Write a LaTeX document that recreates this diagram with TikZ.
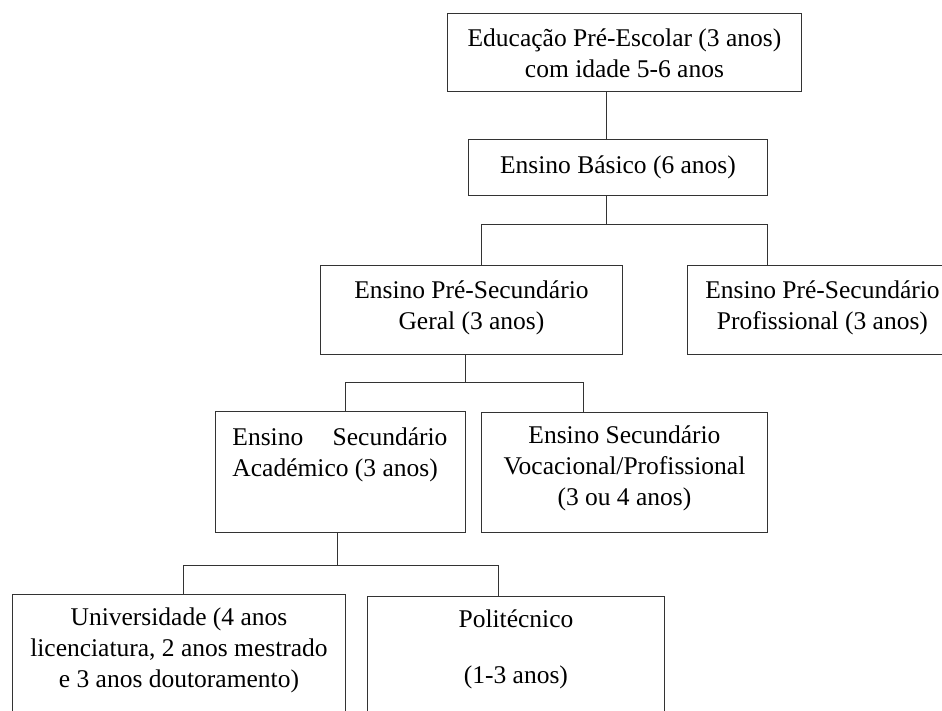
\documentclass[tikz,border=0pt]{standalone}
\usepackage{fontspec}
\setmainfont{Liberation Serif}
\begin{document}
\begin{tikzpicture}[x=1pt, y=-1pt,
    font=\fontsize{25.5}{31}\selectfont,
    box/.style={draw=black!80, line width=0.9pt, inner sep=0pt, anchor=north west},
    link/.style={draw=black!80, line width=0.9pt}]
      \useasboundingbox (0,0) rectangle (942,711);
      \clip (0,0) rectangle (942,711);
      % levels, top to bottom
      \node[box] (pre) at (447,13)
        {\parbox[t][78pt][t]{354pt}{\centering\rule{0pt}{33pt}Educação Pré-Escolar (3 anos)\\com idade 5-6 anos}};
      \node[box] (basico) at (468,139)
        {\parbox[t][56pt][t]{299pt}{\centering\rule{0pt}{34pt}Ensino Básico (6 anos)}};
      \node[box] (geral) at (320,265)
        {\parbox[t][89pt][t]{302pt}{\centering\rule{0pt}{33pt}Ensino Pré-Secundário\\Geral (3 anos)}};
      \node[box] (prof) at (687,265)
        {\parbox[t][89pt][t]{270pt}{\centering\rule{0pt}{33pt}Ensino Pré-Secundário\\Profissional (3 anos)}};
      \node[box] (acad) at (215,411)
        {\parbox[t][121pt][t]{250pt}{\raggedright\rule{0pt}{34pt}\hspace*{17pt}\makebox[215pt][s]{Ensino Secundário}\\\hspace*{17pt}Académico (3 anos)}};
      \node[box] (voc) at (481,412)
        {\parbox[t][120pt][t]{286pt}{\centering\rule{0pt}{31pt}Ensino Secundário\\Vocacional/Profissional\\(3 ou 4 anos)}};
      \node[box] (univ) at (12,594)
        {\parbox[t][130pt][t]{333pt}{\centering\rule{0pt}{31pt}Universidade (4 anos\\licenciatura, 2 anos mestrado\\e 3 anos doutoramento)}};
      \node[box] (poli) at (367,596)
        {\parbox[t][128pt][t]{297pt}{\centering\rule{0pt}{31pt}Politécnico\\[25pt](1-3 anos)}};
      % branch points
      \coordinate (t1) at (606,224);
      \coordinate (b1) at (481,224);
      \coordinate (b2) at (767,224);
      \coordinate (t2) at (465,382);
      \coordinate (b3) at (345,382);
      \coordinate (b4) at (583,382);
      \coordinate (t3) at (337,565);
      \coordinate (b5) at (183,565);
      \coordinate (b6) at (498,565);
      \begin{scope}[link]
        \draw (pre.south -| t1) to (basico.north -| t1);
        \draw (basico.south -| t1) to (t1);
        \draw (geral.north -| b1) -- (b1) -- (b2) -- (prof.north -| b2);
        \draw (geral.south -| t2) to (t2);
        \draw (acad.north -| b3) -- (b3) -- (b4) -- (voc.north -| b4);
        \draw (acad.south -| t3) to (t3);
        \draw (univ.north -| b5) -- (b5) -- (b6) -- (poli.north -| b6);
      \end{scope}
    \end{tikzpicture}
\end{document}
